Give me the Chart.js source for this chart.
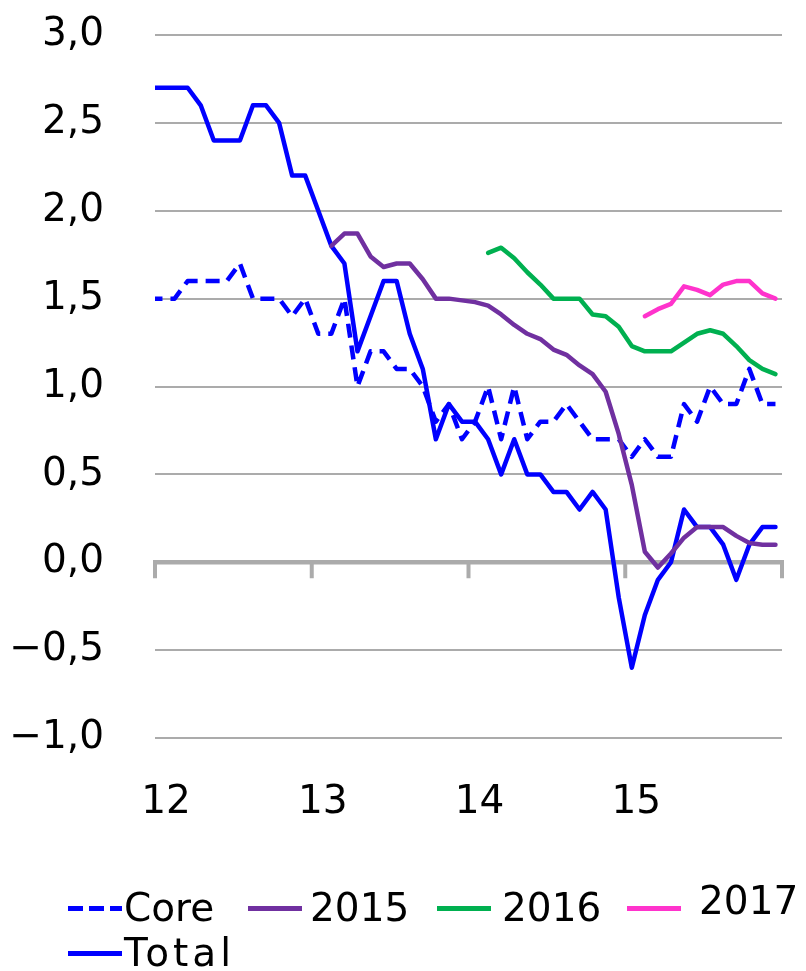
<!DOCTYPE html>
<html><head><meta charset="utf-8">
<script src="https://cdn.jsdelivr.net/npm/chart.js@4.4.1/dist/chart.umd.min.js"></script>
<style>
html,body{margin:0;padding:0;background:#fff;}
#wrap{position:relative;width:806px;height:971px;overflow:hidden;background:#fff;}
#c{position:absolute;left:0;top:0;}
.lt{position:absolute;font-family:"DejaVu Sans";font-size:39px;line-height:40px;color:#000;white-space:nowrap;}
.ll{position:absolute;height:5px;}
</style></head>
<body><div id="wrap"><canvas id="c" width="806" height="971"></canvas>
<div class="ll" style="left:68px;top:906px;width:54px;background:repeating-linear-gradient(to right,#0000ff 0 15px,transparent 15px 21px);"></div>
<div class="lt" style="left:124px;top:888px;">Core</div>
<div class="ll" style="left:248px;top:906px;width:54px;background:#7030a0;"></div>
<div class="lt" style="left:310px;top:888px;">2015</div>
<div class="ll" style="left:437px;top:906px;width:54px;background:#00b050;"></div>
<div class="lt" style="left:502px;top:888px;">2016</div>
<div class="ll" style="left:627px;top:906px;width:54px;background:#ff33cc;"></div>
<div class="lt" style="left:699px;top:881px;">2017</div>
<div class="ll" style="left:68px;top:951px;width:54px;background:#0000ff;"></div>
<div class="lt" style="left:124px;top:933px;letter-spacing:4px;">Total</div>
</div>
<script>
// Months (Dec 2011 .. Dec 2015); Dec 2011 lies just left of the axis and is clipped
const months = ["2011-12",
 "2012-01","2012-02","2012-03","2012-04","2012-05","2012-06","2012-07","2012-08","2012-09","2012-10","2012-11","2012-12",
 "2013-01","2013-02","2013-03","2013-04","2013-05","2013-06","2013-07","2013-08","2013-09","2013-10","2013-11","2013-12",
 "2014-01","2014-02","2014-03","2014-04","2014-05","2014-06","2014-07","2014-08","2014-09","2014-10","2014-11","2014-12",
 "2015-01","2015-02","2015-03","2015-04","2015-05","2015-06","2015-07","2015-08","2015-09","2015-10","2015-11","2015-12"];

const total = [2.7,
 2.7,2.7,2.7,2.6,2.4,2.4,2.4,2.6,2.6,2.5,2.2,2.2,
 2.0,1.8,1.7,1.2,1.4,1.6,1.6,1.3,1.1,0.7,0.9,0.8,
 0.8,0.7,0.5,0.7,0.5,0.5,0.4,0.4,0.3,0.4,0.3,-0.2,
 -0.6,-0.3,-0.1,0.0,0.3,0.2,0.2,0.1,-0.1,0.1,0.2,0.2];

const core = [1.5,
 1.5,1.5,1.6,1.6,1.6,1.6,1.7,1.5,1.5,1.5,1.4,1.5,
 1.3,1.3,1.5,1.0,1.2,1.2,1.1,1.1,1.0,0.8,0.9,0.7,
 0.8,1.0,0.7,1.0,0.7,0.8,0.8,0.9,0.8,0.7,0.7,0.7,
 0.6,0.7,0.6,0.6,0.9,0.8,1.0,0.9,0.9,1.1,0.9,0.9];

const f2015 = [null,
 null,null,null,null,null,null,null,null,null,null,null,null,
 null,1.80,1.87,1.87,1.74,1.68,1.70,1.70,1.61,1.50,1.50,1.49,
 1.48,1.46,1.41,1.35,1.30,1.27,1.21,1.18,1.12,1.07,0.97,0.73,
 0.44,0.06,-0.03,0.05,0.14,0.20,0.20,0.20,0.15,0.11,0.10,0.10];

const f2016 = [null,
 null,null,null,null,null,null,null,null,null,null,null,null,
 null,null,null,null,null,null,null,null,null,null,null,null,
 null,1.76,1.79,1.73,1.65,1.58,1.50,1.50,1.50,1.41,1.40,1.34,
 1.23,1.20,1.20,1.20,1.25,1.30,1.32,1.30,1.23,1.15,1.10,1.07];

const f2017 = [null,
 null,null,null,null,null,null,null,null,null,null,null,null,
 null,null,null,null,null,null,null,null,null,null,null,null,
 null,null,null,null,null,null,null,null,null,null,null,null,
 null,1.40,1.44,1.47,1.57,1.55,1.52,1.58,1.60,1.60,1.53,1.50];

const yearTicks = [-0.5, 11.5, 23.5, 35.5, 47.5];
const yearLabels = ["12", "13", "14", "15", ""];

function monthPos(m){ const [y, mo] = m.split("-").map(Number); return (y - 2012) * 12 + (mo - 1); }
function pts(arr){ return months.map((m, i) => ({x: monthPos(m), y: arr[i]})); }

const FONT = {family: "DejaVu Sans", size: 39};
const GRID = "#ababab";

function noPad(s){ s.paddingTop = 0; s.paddingBottom = 0; s.paddingLeft = 0; s.paddingRight = 0; }

const zeroAxis = {
  id: "zeroAxis",
  beforeDatasetsDraw(chart){
    const {ctx, chartArea, scales} = chart;
    const y0 = scales.y.getPixelForValue(0);
    ctx.save();
    ctx.strokeStyle = GRID;
    ctx.lineWidth = 4.5;
    ctx.beginPath();
    ctx.moveTo(chartArea.left - 2, y0);
    ctx.lineTo(chartArea.right + 2, y0);
    ctx.stroke();
    ctx.lineWidth = 4;
    yearTicks.forEach(v => {
      const x = scales.x.getPixelForValue(v);
      ctx.beginPath();
      ctx.moveTo(x, y0);
      ctx.lineTo(x, y0 + 16);
      ctx.stroke();
    });
    ctx.restore();
  }
};

function ds(label, arr, color, order, dash){
  return {label, data: pts(arr), borderColor: color, backgroundColor: color,
    borderWidth: 4.5, pointRadius: 0, tension: 0, spanGaps: false, fill: false,
    borderDash: dash || [], borderCapStyle: dash ? "butt" : "round",
    borderJoinStyle: "round", order, clip: 0};
}

new Chart(document.getElementById("c"), {
  type: "line",
  data: {datasets: [
    ds("Core", core, "#0000ff", 5, [14, 8]),
    ds("2015", f2015, "#7030a0", 1),
    ds("2016", f2016, "#00b050", 2),
    ds("2017", f2017, "#ff33cc", 3),
    ds("Total", total, "#0000ff", 4)
  ]},
  options: {
    responsive: false, animation: false, devicePixelRatio: 1,
    layout: {padding: {left: 0, right: 24, top: 35, bottom: 142}},
    plugins: {legend: {display: false}, tooltip: {enabled: false}},
    scales: {
      x: {type: "linear", min: -0.5, max: 47.5,
        afterBuildTicks: s => { s.ticks = yearTicks.map(v => ({value: v})); },
        afterFit: s => { s.height = 91; noPad(s); },
        grid: {display: false, drawTicks: false}, border: {display: false},
        ticks: {autoSkip: false, maxRotation: 0, font: FONT, color: "#000", padding: 41, labelOffset: 11,
          callback: (v, i) => yearLabels[i]}},
      y: {min: -1, max: 3,
        afterFit: s => { s.width = 155; noPad(s); },
        grid: {color: c => c.tick && c.tick.value === 0 ? "rgba(0,0,0,0)" : GRID, lineWidth: 2, drawTicks: false},
        border: {display: false},
        ticks: {stepSize: 0.5, font: FONT, color: "#000", padding: 51,
          callback: v => (v < 0 ? "\u2212" : "") + Math.abs(v).toFixed(1).replace(".", ",")}}
    }
  },
  plugins: [zeroAxis]
});
</script></body></html>
